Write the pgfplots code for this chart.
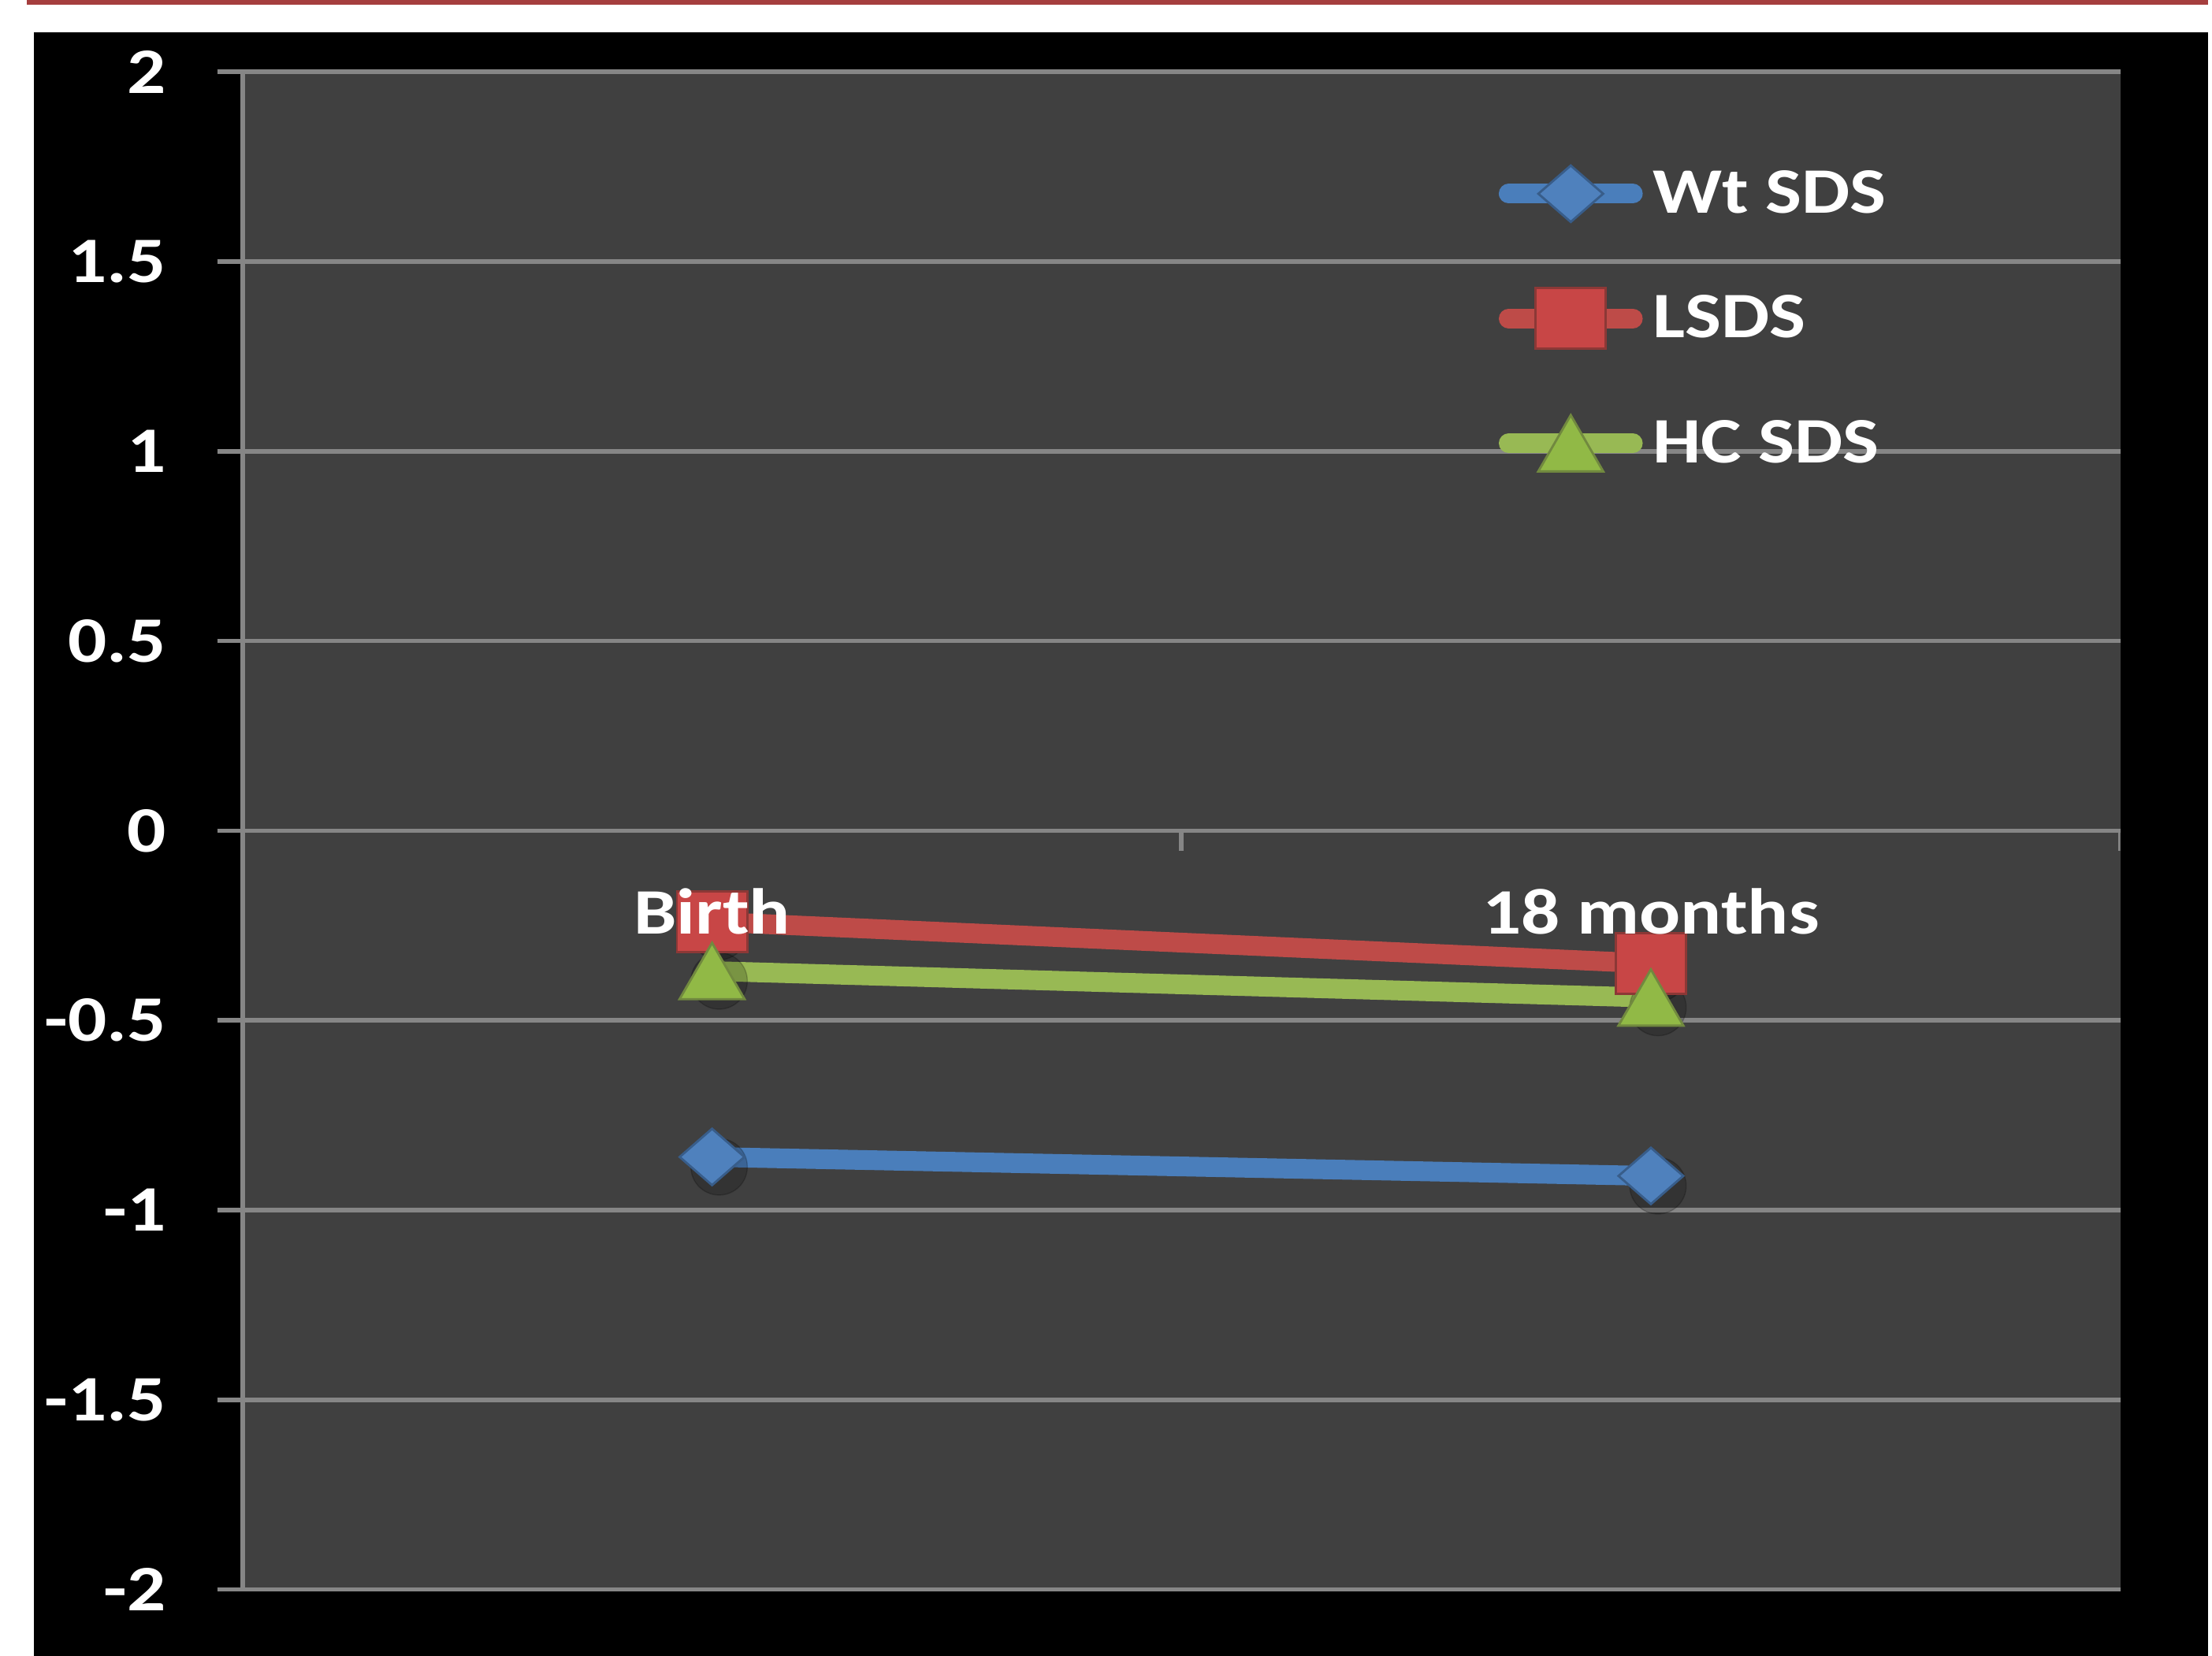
\documentclass[border=0pt]{standalone}
\usepackage{fontspec}
\setmainfont{Carlito}[FakeStretch=1.18]
\usepackage{pgfplots}
\pgfplotsset{compat=1.18}
\definecolor{gridgray}{RGB}{134,134,134}
\definecolor{plotbg}{RGB}{64,64,64}
\definecolor{wtline}{RGB}{74,126,187}
\definecolor{wtfill}{RGB}{79,129,189}
\definecolor{wtdraw}{RGB}{56,93,138}
\definecolor{lline}{RGB}{190,75,72}
\definecolor{lfill}{RGB}{200,70,70}
\definecolor{ldraw}{RGB}{140,56,54}
\definecolor{hline}{RGB}{152,185,84}
\definecolor{hfill}{RGB}{145,185,70}
\definecolor{hdraw}{RGB}{113,137,63}
\definecolor{barred}{RGB}{165,62,62}
\pgfplotsset{
  chartgeom/.style={
    at={(86bp,23.5bp)}, anchor=south west,
    scale only axis, width=665.5bp, height=538bp,
    xmin=-0.5, xmax=1.5, ymin=-2, ymax=2,
    hide obscured x ticks=false, hide obscured y ticks=false,
    major tick length=9bp,
    ticklabel style={font=\fontsize{23bp}{27bp}\selectfont\bfseries, text=white},
  }
}
\begin{document}
\begin{tikzpicture}
\path[use as bounding box] (0,0) rectangle (784bp,587bp);
\fill[white] (0,0) rectangle (784bp,587bp);
\fill[black] (12bp,0) rectangle (782.5bp,575.5bp);
\fill[barred] (9.5bp,585.2bp) rectangle (782.5bp,587bp);
\begin{axis}[
  chartgeom,
  axis x line=middle, axis y line=left,
  tick align=outside,
  axis line style={-, draw=gridgray, line width=1.6bp},
  every inner x axis line/.append style={-},
  every outer y axis line/.append style={-},
  axis background/.style={fill=plotbg},
  xtick={0,1}, xticklabels={,},
  major x tick style={draw=none},
  ytick={-2,-1.5,-1,-0.5,0,0.5,1,1.5,2},
  yticklabels={-2,-1.5,-1,-0.5,0,0.5,1,1.5,2},
  ymajorgrids, grid style={draw=gridgray, line width=1.6bp},
  major y tick style={draw=gridgray, line width=1.6bp},
  yticklabel style={anchor=east, inner sep=0pt, xshift=-18bp},
  legend cell align=left,
  legend style={at={(0.6687,0.9424)}, anchor=north west, draw=none, fill=none,
    font=\fontsize{23bp}{27bp}\selectfont\bfseries, text=white,
    inner sep=0pt, row sep=20.25bp, nodes={inner sep=0pt},
    /tikz/every odd column/.append style={column sep=3.5bp}},
  legend image code/.code={
    \path[draw=none, fill=none] (0bp,-12bp) rectangle (44bp,12bp);
    \draw[mark repeat=2, mark phase=2, #1] plot coordinates {(0bp,0bp) (22bp,0bp) (44bp,0bp)};
  },
]
% marker shadows
\addplot[forget plot, only marks, mark=*, mark size=10bp,
  mark options={fill=black, draw=none, opacity=0.2, xshift=2.5bp, yshift=-3.5bp}]
  coordinates {(0,-0.86) (1,-0.91) (0,-0.24) (1,-0.35) (0,-0.37) (1,-0.44)};
\addplot[draw=wtline, line width=7bp, line cap=round, mark=diamond*, mark size=10bp,
  mark options={fill=wtfill, draw=wtdraw, line width=0.8bp, xscale=1.53}]
  coordinates {(0,-0.86) (1,-0.91)};
\addlegendentry{Wt SDS}
\addplot[draw=lline, line width=7bp, line cap=round, mark=square*, mark size=10.75bp,
  mark options={fill=lfill, draw=ldraw, line width=0.8bp, xscale=1.16}]
  coordinates {(0,-0.24) (1,-0.35)};
\addlegendentry{LSDS}
\addplot[draw=hline, line width=7bp, line cap=round, mark=triangle*, mark size=13.3bp,
  mark options={fill=hfill, draw=hdraw, line width=0.8bp, yshift=-3.3bp}]
  coordinates {(0,-0.37) (1,-0.44)};
\addlegendentry{HC SDS}
\draw[gridgray, line width=1.6bp] (axis cs:0.5,0) -- ++(0pt,-7.25bp);
\draw[gridgray, line width=1.6bp] (axis cs:1.5,0) -- ++(0pt,-7.25bp);
\end{axis}
% category labels drawn over the series
\begin{axis}[
  chartgeom,
  axis x line=middle, axis y line=none,
  tick align=outside,
  axis line style={draw=none},
  xtick={0,1}, xticklabels={Birth,18 months},
  major x tick style={draw=none},
  ytick=\empty,
  xticklabel style={anchor=base, inner sep=0pt, yshift=-27.75bp},
]
\end{axis}
\end{tikzpicture}
\end{document}
